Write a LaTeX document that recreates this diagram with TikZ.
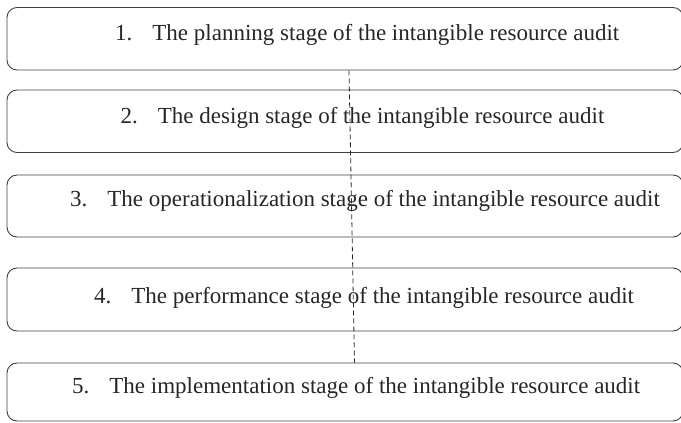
\documentclass[tikz,border=0pt]{standalone}
\usepackage{fontspec}
\setmainfont{Liberation Serif}
\usetikzlibrary{calc}

\tikzset{
  stagebox/.style={draw=black!75, line width=0.9pt, rounded corners=10pt, inner sep=0pt},
  stagelabel/.style={anchor=base west, inner sep=0pt, font=\fontsize{23}{26}\selectfont, text=black!85},
  linkline/.style={draw=black!85, line width=0.8pt, dash pattern=on 5pt off 3pt}
}

\begin{document}
\begin{tikzpicture}[x=1pt,y=-1pt]
  \useasboundingbox (0,0) rectangle (681,423);

  % each row: top/bottom of the box, baseline of the text, its left end, the text
  \foreach \ytop/\ybot/\ybase/\xleft/\stagetext [count=\row] in {
    7.5/70/40.5/115/The planning stage of the intangible resource audit,
    90/152.5/123.5/120.5/The design stage of the intangible resource audit,
    175/237/206/70/The operationalization stage of the intangible resource audit,
    268/331/303/94/The performance stage of the intangible resource audit,
    363/421/393/72/The implementation stage of the intangible resource audit
  }{
    \node[stagebox, minimum width=676pt, minimum height={(\ybot-\ytop)*1pt}]
      (stage\row) at (345, {(\ytop+\ybot)/2}) {};
    \node[stagelabel] (label\row) at (\xleft, \ybase) {\row.\hspace{20pt}\stagetext};
  }

  % dashed link through the stages
  \draw[linkline] ($(stage1.south)+(4,0)$) -- ($(stage5.north)+(9.5,0)$);

\end{tikzpicture}
\end{document}
